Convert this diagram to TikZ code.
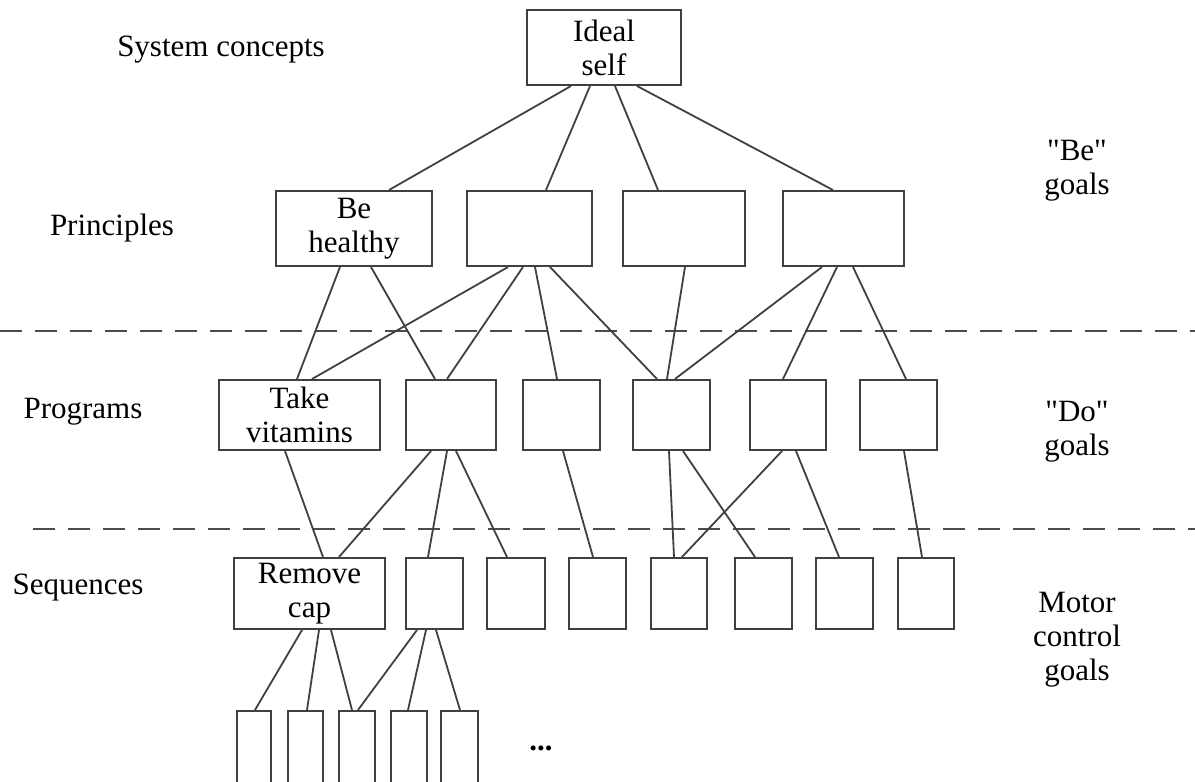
\documentclass[tikz,border=0pt]{standalone}
\usepackage{fontspec}
\setmainfont{Liberation Serif}
\newfontfamily\qfont{Liberation Serif}
\begin{document}
\begin{tikzpicture}[x=1pt,y=-1pt,
  every node/.style={font=\fontsize{31}{34}\selectfont, text=black},
  bx/.style={draw=black!75, line width=2pt, fill=white, inner sep=0pt, align=center},
  lbl/.style={align=center, inner sep=0pt},
  ln/.style={draw=black!75, line width=1.8pt},
  sep/.style={draw=black!70, line width=1.8pt, dash pattern=on 22pt off 13pt}]
\useasboundingbox (0,0) rectangle (1195,782);
\newcommand\cn[4]{\draw[ln] (#2,0 |- #1.south) -- (#4,0 |- #3.north);}
\newcommand\sq{{\qfont"}}
% separators
\coordinate (d1a) at (0,331); \coordinate (d1b) at (1195,331);
\coordinate (d2a) at (33,529); \coordinate (d2b) at (1195,529);
\draw[sep] (d1a) -- (d1b);
\draw[sep] (d2a) -- (d2b);
% level labels
\node[lbl] (lsys) at (221,50) {System concepts};
\node[lbl] (lpri) at (112,228) {Principles};
\node[lbl] (lpro) at (83,412) {Programs};
\node[lbl] (lseq) at (78,588) {Sequences};
\node[lbl] (lbe) at (1077,171) {\sq Be\sq\\goals};
\node[lbl] (ldo) at (1077,432) {\sq Do\sq\\goals};
\node[lbl] (lmot) at (1077,640) {Motor\\control\\goals};
% top
\node[bx, minimum width=154pt, minimum height=75pt] (I) at (604,47.5) {Ideal\\self};
% principles
\node[bx, minimum width=156pt, minimum height=75pt] (P1) at (354,228.5) {Be\\healthy};
\node[bx, minimum width=125pt, minimum height=75pt] (P2) at (529.5,228.5) {};
\node[bx, minimum width=122pt, minimum height=75pt] (P3) at (684,228.5) {};
\node[bx, minimum width=121pt, minimum height=75pt] (P4) at (843.5,228.5) {};
% programs
\node[bx, minimum width=161pt, minimum height=70pt] (G1) at (299.5,415) {Take\\vitamins};
\node[bx, minimum width=90pt, minimum height=70pt] (G2) at (451,415) {};
\node[bx, minimum width=77pt, minimum height=70pt] (G3) at (561.5,415) {};
\node[bx, minimum width=77pt, minimum height=70pt] (G4) at (671.5,415) {};
\node[bx, minimum width=76pt, minimum height=70pt] (G5) at (788,415) {};
\node[bx, minimum width=77pt, minimum height=70pt] (G6) at (898.5,415) {};
% sequences
\node[bx, minimum width=151pt, minimum height=71pt] (S1) at (309.5,593.5) {Remove\\cap};
\node[bx, minimum width=57pt, minimum height=71pt] (S2) at (434.5,593.5) {};
\node[bx, minimum width=58pt, minimum height=71pt] (S3) at (516,593.5) {};
\node[bx, minimum width=57pt, minimum height=71pt] (S4) at (597.5,593.5) {};
\node[bx, minimum width=56pt, minimum height=71pt] (S5) at (679,593.5) {};
\node[bx, minimum width=57pt, minimum height=71pt] (S6) at (763.5,593.5) {};
\node[bx, minimum width=57pt, minimum height=71pt] (S7) at (844.5,593.5) {};
\node[bx, minimum width=56pt, minimum height=71pt] (S8) at (926,593.5) {};
% motor
\node[bx, minimum width=34pt, minimum height=76pt] (M1) at (254,749) {};
\node[bx, minimum width=35pt, minimum height=76pt] (M2) at (305.5,749) {};
\node[bx, minimum width=36pt, minimum height=76pt] (M3) at (357,749) {};
\node[bx, minimum width=36pt, minimum height=76pt] (M4) at (409,749) {};
\node[bx, minimum width=37pt, minimum height=76pt] (M5) at (459.5,749) {};
\node[lbl] (dots) at (541,748) {\textbf{...}};
% connectors
\cn{I}{571}{P1}{389}
\cn{I}{590}{P2}{546}
\cn{I}{615}{P3}{658}
\cn{I}{637}{P4}{833}
\cn{P1}{340}{G1}{297}
\cn{P1}{371}{G2}{435}
\cn{P2}{508}{G1}{312}
\cn{P2}{523}{G2}{447}
\cn{P2}{535}{G3}{557}
\cn{P2}{550}{G4}{657}
\cn{P3}{685}{G4}{667}
\cn{P4}{822}{G4}{675}
\cn{P4}{837}{G5}{783}
\cn{P4}{853}{G6}{906}
\cn{G1}{285}{S1}{323}
\cn{G2}{431}{S1}{339}
\cn{G2}{447}{S2}{428}
\cn{G2}{456}{S3}{507}
\cn{G3}{563}{S4}{593}
\cn{G4}{669}{S5}{674}
\cn{G4}{683}{S6}{755}
\cn{G5}{782}{S5}{682}
\cn{G5}{796}{S7}{839}
\cn{G6}{904}{S8}{922}
\cn{S1}{302}{M1}{255}
\cn{S1}{319}{M2}{307}
\cn{S1}{331}{M3}{352}
\cn{S2}{417}{M3}{358}
\cn{S2}{426}{M4}{408}
\cn{S2}{436}{M5}{460}
\end{tikzpicture}
\end{document}
